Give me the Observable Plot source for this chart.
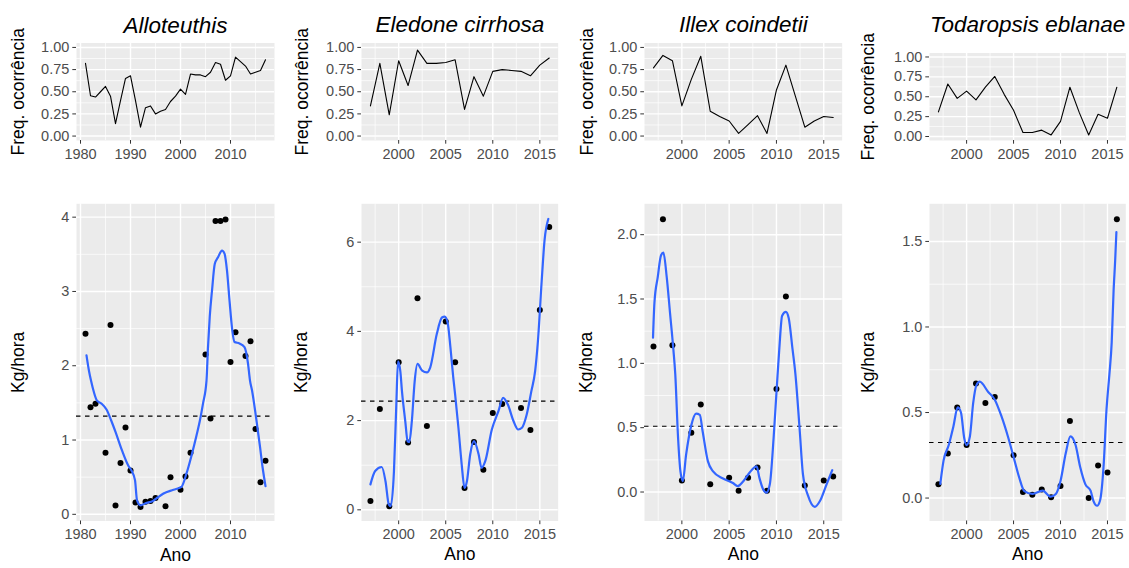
<!DOCTYPE html>
<html>
<head>
<meta charset="utf-8">
<script src="https://cdn.jsdelivr.net/npm/d3@7"></script>
<script src="https://cdn.jsdelivr.net/npm/@observablehq/plot@0.6"></script>
<style>
  body { margin: 0; background: #fff; }
  #chart { position: relative; width: 1129px; height: 568px; font-family: "Liberation Sans", Arial, sans-serif; }
  #chart svg { position: absolute; overflow: visible; }
</style>
</head>
<body>
<div id="chart"></div>
<script>
// Species shown in the four columns
const species = ["Alloteuthis", "Eledone cirrhosa", "Illex coindetii", "Todaropsis eblanae"];

// Frequency of occurrence per year: [year, frequency]
const alloFreq = [[1981,0.82],[1982,0.455],[1983,0.44],[1984,0.50],[1985,0.56],[1986,0.45],[1987,0.14],[1988,0.40],[1989,0.65],[1990,0.68],[1991,0.40],[1992,0.10],[1993,0.32],[1994,0.34],[1995,0.25],[1996,0.28],[1997,0.30],[1998,0.39],[1999,0.45],[2000,0.53],[2001,0.47],[2002,0.70],[2003,0.69],[2004,0.69],[2005,0.67],[2006,0.72],[2007,0.83],[2008,0.81],[2009,0.63],[2010,0.68],[2011,0.89],[2012,0.84],[2013,0.79],[2014,0.70],[2015,0.72],[2016,0.74],[2017,0.86]];
const eledoneFreq = [[1997,0.34],[1998,0.82],[1999,0.24],[2000,0.85],[2001,0.57],[2002,0.97],[2003,0.82],[2004,0.82],[2005,0.83],[2006,0.86],[2007,0.30],[2008,0.67],[2009,0.45],[2010,0.73],[2011,0.75],[2012,0.74],[2013,0.73],[2014,0.68],[2015,0.80],[2016,0.88]];
const illexFreq = [[1997,0.77],[1998,0.91],[1999,0.85],[2000,0.34],[2001,0.64],[2002,0.90],[2003,0.28],[2004,0.22],[2005,0.17],[2006,0.03],[2007,0.13],[2008,0.23],[2009,0.03],[2010,0.52],[2011,0.80],[2012,0.45],[2013,0.10],[2014,0.17],[2015,0.22],[2016,0.21]];
const todaroFreq = [[1997,0.31],[1998,0.66],[1999,0.48],[2000,0.57],[2001,0.46],[2002,0.62],[2003,0.755],[2004,0.53],[2005,0.33],[2006,0.05],[2007,0.05],[2008,0.08],[2009,0.02],[2010,0.19],[2011,0.62],[2012,0.30],[2013,0.02],[2014,0.28],[2015,0.23],[2016,0.62]];

// Catch rate (Kg/hora) per year: [year, value]
const alloCpue = [[1981,2.43],[1982,1.44],[1983,1.49],[1985,0.83],[1986,2.55],[1987,0.12],[1988,0.69],[1989,1.17],[1990,0.59],[1991,0.16],[1992,0.10],[1993,0.17],[1994,0.18],[1995,0.22],[1997,0.11],[1998,0.50],[2000,0.33],[2001,0.51],[2002,0.83],[2005,2.15],[2006,1.29],[2007,3.95],[2008,3.95],[2009,3.97],[2010,2.05],[2011,2.45],[2013,2.13],[2014,2.33],[2015,1.15],[2016,0.43],[2017,0.72]];
const eledoneCpue = [[1997,0.20],[1998,2.26],[1999,0.08],[2000,3.31],[2001,1.51],[2002,4.74],[2003,1.88],[2005,4.22],[2006,3.31],[2007,0.49],[2008,1.52],[2009,0.90],[2010,2.17],[2011,2.37],[2013,2.28],[2014,1.79],[2015,4.48],[2016,6.34]];
const illexCpue = [[1997,1.13],[1998,2.12],[1999,1.14],[2000,0.09],[2001,0.46],[2002,0.68],[2003,0.06],[2005,0.11],[2006,0.01],[2007,0.11],[2008,0.19],[2009,0.01],[2010,0.80],[2011,1.52],[2013,0.05],[2015,0.09],[2016,0.12]];
const todaroCpue = [[1997,0.08],[1998,0.26],[1999,0.53],[2000,0.31],[2001,0.67],[2002,0.555],[2003,0.59],[2005,0.25],[2006,0.035],[2007,0.02],[2008,0.05],[2009,0.005],[2010,0.07],[2011,0.45],[2013,0.00],[2014,0.19],[2015,0.15],[2016,1.63]];

// Smoothed trend of the catch rate: [year, value]
const alloSmooth = [[1981.2,2.14],[1981.7,1.93],[1982.1,1.80],[1982.7,1.64],[1983.3,1.53],[1984.2,1.49],[1985.2,1.41],[1986.1,1.27],[1987,1.11],[1988.3,0.86],[1989.6,0.65],[1990.2,0.59],[1990.9,0.46],[1991.3,0.19],[1992,0.12],[1993,0.15],[1994.5,0.18],[1995.5,0.23],[1996.6,0.28],[1998.6,0.33],[2000.2,0.37],[2001.2,0.55],[2002.2,0.79],[2003.2,1.06],[2003.9,1.27],[2004.5,1.49],[2005.2,1.80],[2005.5,2.25],[2005.85,2.66],[2006.3,3.01],[2006.85,3.37],[2007.5,3.46],[2008.3,3.55],[2008.8,3.51],[2009.3,3.28],[2009.8,2.88],[2010.35,2.48],[2010.8,2.32],[2011.8,2.30],[2012.8,2.25],[2013.5,2.03],[2013.9,1.80],[2014.3,1.67],[2015.1,1.31],[2015.9,0.91],[2016.4,0.64],[2017,0.38]];
const eledoneSmooth = [[1997.0,0.57],[1997.5,0.87],[1998.2,0.96],[1998.6,0.64],[1998.95,0.12],[1999.15,0.08],[1999.5,0.87],[1999.75,2.36],[1999.93,3.33],[2000.18,3.10],[2000.35,2.66],[2000.7,1.99],[2000.95,1.54],[2001.13,1.52],[2001.4,1.99],[2001.7,2.88],[2002.0,3.27],[2002.5,3.12],[2003,3.08],[2003.35,3.19],[2004.05,3.94],[2004.6,4.31],[2004.9,4.33],[2005.2,4.20],[2005.5,3.64],[2005.8,2.97],[2006.0,2.58],[2006.35,1.84],[2006.7,1.01],[2007.0,0.49],[2007.25,0.64],[2007.6,1.24],[2008.0,1.54],[2008.5,1.24],[2008.8,0.94],[2009.2,1.09],[2009.9,1.80],[2010.6,2.21],[2011.1,2.51],[2011.6,2.36],[2012.2,1.99],[2012.7,1.80],[2013.1,1.84],[2013.6,2.13],[2014.1,2.66],[2014.5,3.11],[2014.8,3.79],[2015.2,5.14],[2015.5,6.04],[2015.9,6.52]];
const illexSmooth = [[1996.95,1.20],[1997.1,1.47],[1997.45,1.67],[1997.8,1.84],[1998.05,1.86],[1998.4,1.67],[1998.75,1.39],[1999.1,1.11],[1999.3,0.92],[1999.6,0.42],[1999.85,0.16],[2000.1,0.085],[2000.45,0.29],[2001,0.52],[2001.5,0.61],[2001.9,0.60],[2002.2,0.47],[2002.75,0.24],[2003.3,0.16],[2004.35,0.105],[2005.4,0.07],[2005.9,0.046],[2006.45,0.08],[2007.15,0.15],[2007.9,0.20],[2008.2,0.11],[2008.6,0.02],[2008.95,-0.005],[2009.3,0.06],[2009.7,0.42],[2010.05,0.83],[2010.3,1.11],[2010.6,1.37],[2011.0,1.40],[2011.3,1.35],[2011.7,1.11],[2012.0,0.92],[2012.45,0.49],[2012.8,0.14],[2013.35,-0.03],[2014.05,-0.115],[2014.6,-0.07],[2015.3,0.06],[2015.9,0.17]];
const todaroSmooth = [[1997.2,0.083],[1997.55,0.22],[1998.1,0.31],[1998.6,0.42],[1999.05,0.53],[1999.4,0.50],[1999.75,0.35],[2000.0,0.31],[2000.35,0.36],[2000.7,0.555],[2001.05,0.66],[2001.4,0.68],[2002.3,0.62],[2003,0.575],[2003.7,0.48],[2004.4,0.36],[2005.1,0.22],[2005.6,0.12],[2006.15,0.04],[2007.0,0.024],[2008.1,0.043],[2008.95,0.008],[2009.5,0.024],[2010,0.10],[2010.55,0.26],[2011.05,0.36],[2011.6,0.31],[2012.1,0.18],[2012.65,0.08],[2013.2,0.043],[2013.5,-0.016],[2013.9,-0.045],[2014.2,-0.016],[2014.6,0.20],[2014.9,0.52],[2015.2,0.72],[2015.45,0.91],[2015.65,1.21],[2015.82,1.39],[2015.95,1.555]];

// Tick values (major) and minor grid positions
const yearTicksLong = [1980, 1990, 2000, 2010];
const yearMinorLong = [1985, 1995, 2005, 2015];
const yearTicksShort = [2000, 2005, 2010, 2015];
const yearMinorShort = [1997.5, 2002.5, 2007.5, 2012.5];
const freqTicks = [0, 0.25, 0.5, 0.75, 1];
const freqMinor = [0.125, 0.375, 0.625, 0.875];
const alloKgTicks = [0, 1, 2, 3, 4];
const alloKgMinor = [0.5, 1.5, 2.5, 3.5];
const eledoneKgTicks = [0, 2, 4, 6];
const eledoneKgMinor = [1, 3, 5];
const illexKgTicks = [0, 0.5, 1, 1.5, 2];
const illexKgMinor = [0.25, 0.75, 1.25, 1.75];
const todaroKgTicks = [0, 0.5, 1, 1.5];
const todaroKgMinor = [0.25, 0.75, 1.25];

const FONT = '"Liberation Sans", Arial, sans-serif';
const chart = document.getElementById("chart");

// Layout of each column: panel edges and scale domains
const columns = [
  {title: species[0], left: 76, right: 274, freqTop: 42.5, freqLabelX: 18, kgLabelX: 18,
   xDomain: [1979.2, 2018.8], xMajor: yearTicksLong, xMinor: yearMinorLong,
   freq: alloFreq, cpue: alloCpue, smooth: alloSmooth,
   kgDomain: [-0.09, 4.18], kgMajor: alloKgTicks, kgMinor: alloKgMinor, kgFormat: "d"},
  {title: species[1], left: 361, right: 557.7, freqTop: 42.5, freqLabelX: 301.5, kgLabelX: 300.5,
   xDomain: [1996.05, 2016.95], xMajor: yearTicksShort, xMinor: yearMinorShort,
   freq: eledoneFreq, cpue: eledoneCpue, smooth: eledoneSmooth,
   kgDomain: [-0.25, 6.86], kgMajor: eledoneKgTicks, kgMinor: eledoneKgMinor, kgFormat: "d"},
  {title: species[2], left: 644, right: 841.7, freqTop: 42.5, freqLabelX: 587, kgLabelX: 586,
   xDomain: [1996.05, 2016.95], xMajor: yearTicksShort, xMinor: yearMinorShort,
   freq: illexFreq, cpue: illexCpue, smooth: illexSmooth,
   kgDomain: [-0.225, 2.24], kgMajor: illexKgTicks, kgMinor: illexKgMinor, kgFormat: ".1f"},
  {title: species[3], left: 928.7, right: 1125, freqTop: 52.5, freqLabelX: 868, kgLabelX: 868,
   xDomain: [1996.05, 2016.95], xMajor: yearTicksShort, xMinor: yearMinorShort,
   freq: todaroFreq, cpue: todaroCpue, smooth: todaroSmooth,
   kgDomain: [-0.134, 1.72], kgMajor: todaroKgTicks, kgMinor: todaroKgMinor, kgFormat: ".1f"}
];

const ML = 76, MR = 4;

function panel({x0, y0, width, height, mt, mb, xDomain, yDomain, xMajor, xMinor, yMajor, yMinor, yFormat, marks}) {
  const svg = Plot.plot({
    width, height,
    marginLeft: ML, marginRight: MR, marginTop: mt, marginBottom: mb,
    x: {domain: xDomain},
    y: {domain: yDomain},
    style: {fontFamily: FONT, background: "none", overflow: "visible"},
    marks: [
      Plot.frame({fill: "#EBEBEB", stroke: "none"}),
      Plot.gridX(xMinor, {stroke: "white", strokeOpacity: 1, strokeWidth: 0.7}),
      Plot.gridY(yMinor, {stroke: "white", strokeOpacity: 1, strokeWidth: 0.7}),
      Plot.gridX(xMajor, {stroke: "white", strokeOpacity: 1, strokeWidth: 1.4}),
      Plot.gridY(yMajor, {stroke: "white", strokeOpacity: 1, strokeWidth: 1.4}),
      Plot.axisX(xMajor, {tickSize: 3.7, tickPadding: 4.5, fontSize: 14.5, fill: "#4D4D4D", stroke: "#333333",
        tickFormat: d3.format("d"), label: null}),
      Plot.axisY(yMajor, {tickSize: 3.7, tickPadding: 3.5, fontSize: 14.5, fill: "#4D4D4D", stroke: "#333333",
        tickFormat: d3.format(yFormat), label: null}),
      ...marks
    ]
  });
  svg.style.left = x0 + "px";
  svg.style.top = y0 + "px";
  chart.append(svg);
}

for (const c of columns) {
  const x0 = c.left - ML;
  const width = (c.right - c.left) + ML + MR;

  // Upper row: frequency of occurrence
  const topH = 180, topBottom = 140;
  panel({
    x0, y0: 0, width, height: topH, mt: c.freqTop, mb: topH - topBottom,
    xDomain: c.xDomain, yDomain: [-0.05, 1.05],
    xMajor: c.xMajor, xMinor: c.xMinor, yMajor: freqTicks, yMinor: freqMinor, yFormat: ".2f",
    marks: [
      Plot.line(c.freq, {x: d => d[0], y: d => d[1], stroke: "black", strokeWidth: 1.1}),
      Plot.text([c.title], {text: d => d, frameAnchor: "top", dy: 32 - c.freqTop, lineAnchor: "bottom",
        textAnchor: "middle", fontSize: 22.5, fontStyle: "italic", fill: "black"}),
      Plot.text(["Freq. ocorrência"], {text: d => d, frameAnchor: "left", dx: c.freqLabelX - c.left,
        textAnchor: "middle", rotate: -90, fontSize: 17.5, fill: "black"})
    ]
  });

  // Lower row: catch rate with smoothed trend and the mean as a dashed reference
  const botY0 = 180, botH = 388, botTop = 203.3 - botY0, botBottom = 520.5 - botY0;
  const mean = d3.mean(c.cpue, d => d[1]);
  panel({
    x0, y0: botY0, width, height: botH, mt: botTop, mb: botH - botBottom,
    xDomain: c.xDomain, yDomain: c.kgDomain,
    xMajor: c.xMajor, xMinor: c.xMinor, yMajor: c.kgMajor, yMinor: c.kgMinor, yFormat: c.kgFormat,
    marks: [
      Plot.ruleY([mean], {stroke: "black", strokeWidth: 1.1, strokeDasharray: "4.5,4.5"}),
      Plot.dot(c.cpue, {x: d => d[0], y: d => d[1], r: 3, fill: "black", stroke: "none"}),
      Plot.line(c.smooth, {x: d => d[0], y: d => d[1], stroke: "#3366FF", strokeWidth: 2.2, curve: "monotone-x"}),
      Plot.text(["Ano"], {text: d => d, frameAnchor: "bottom", dy: (560 - botY0) - botBottom,
        textAnchor: "middle", fontSize: 17.5, fill: "black"}),
      Plot.text(["Kg/hora"], {text: d => d, frameAnchor: "left", dx: c.kgLabelX - c.left,
        textAnchor: "middle", rotate: -90, fontSize: 17.5, fill: "black"})
    ]
  });
}
</script>
</body>
</html>
